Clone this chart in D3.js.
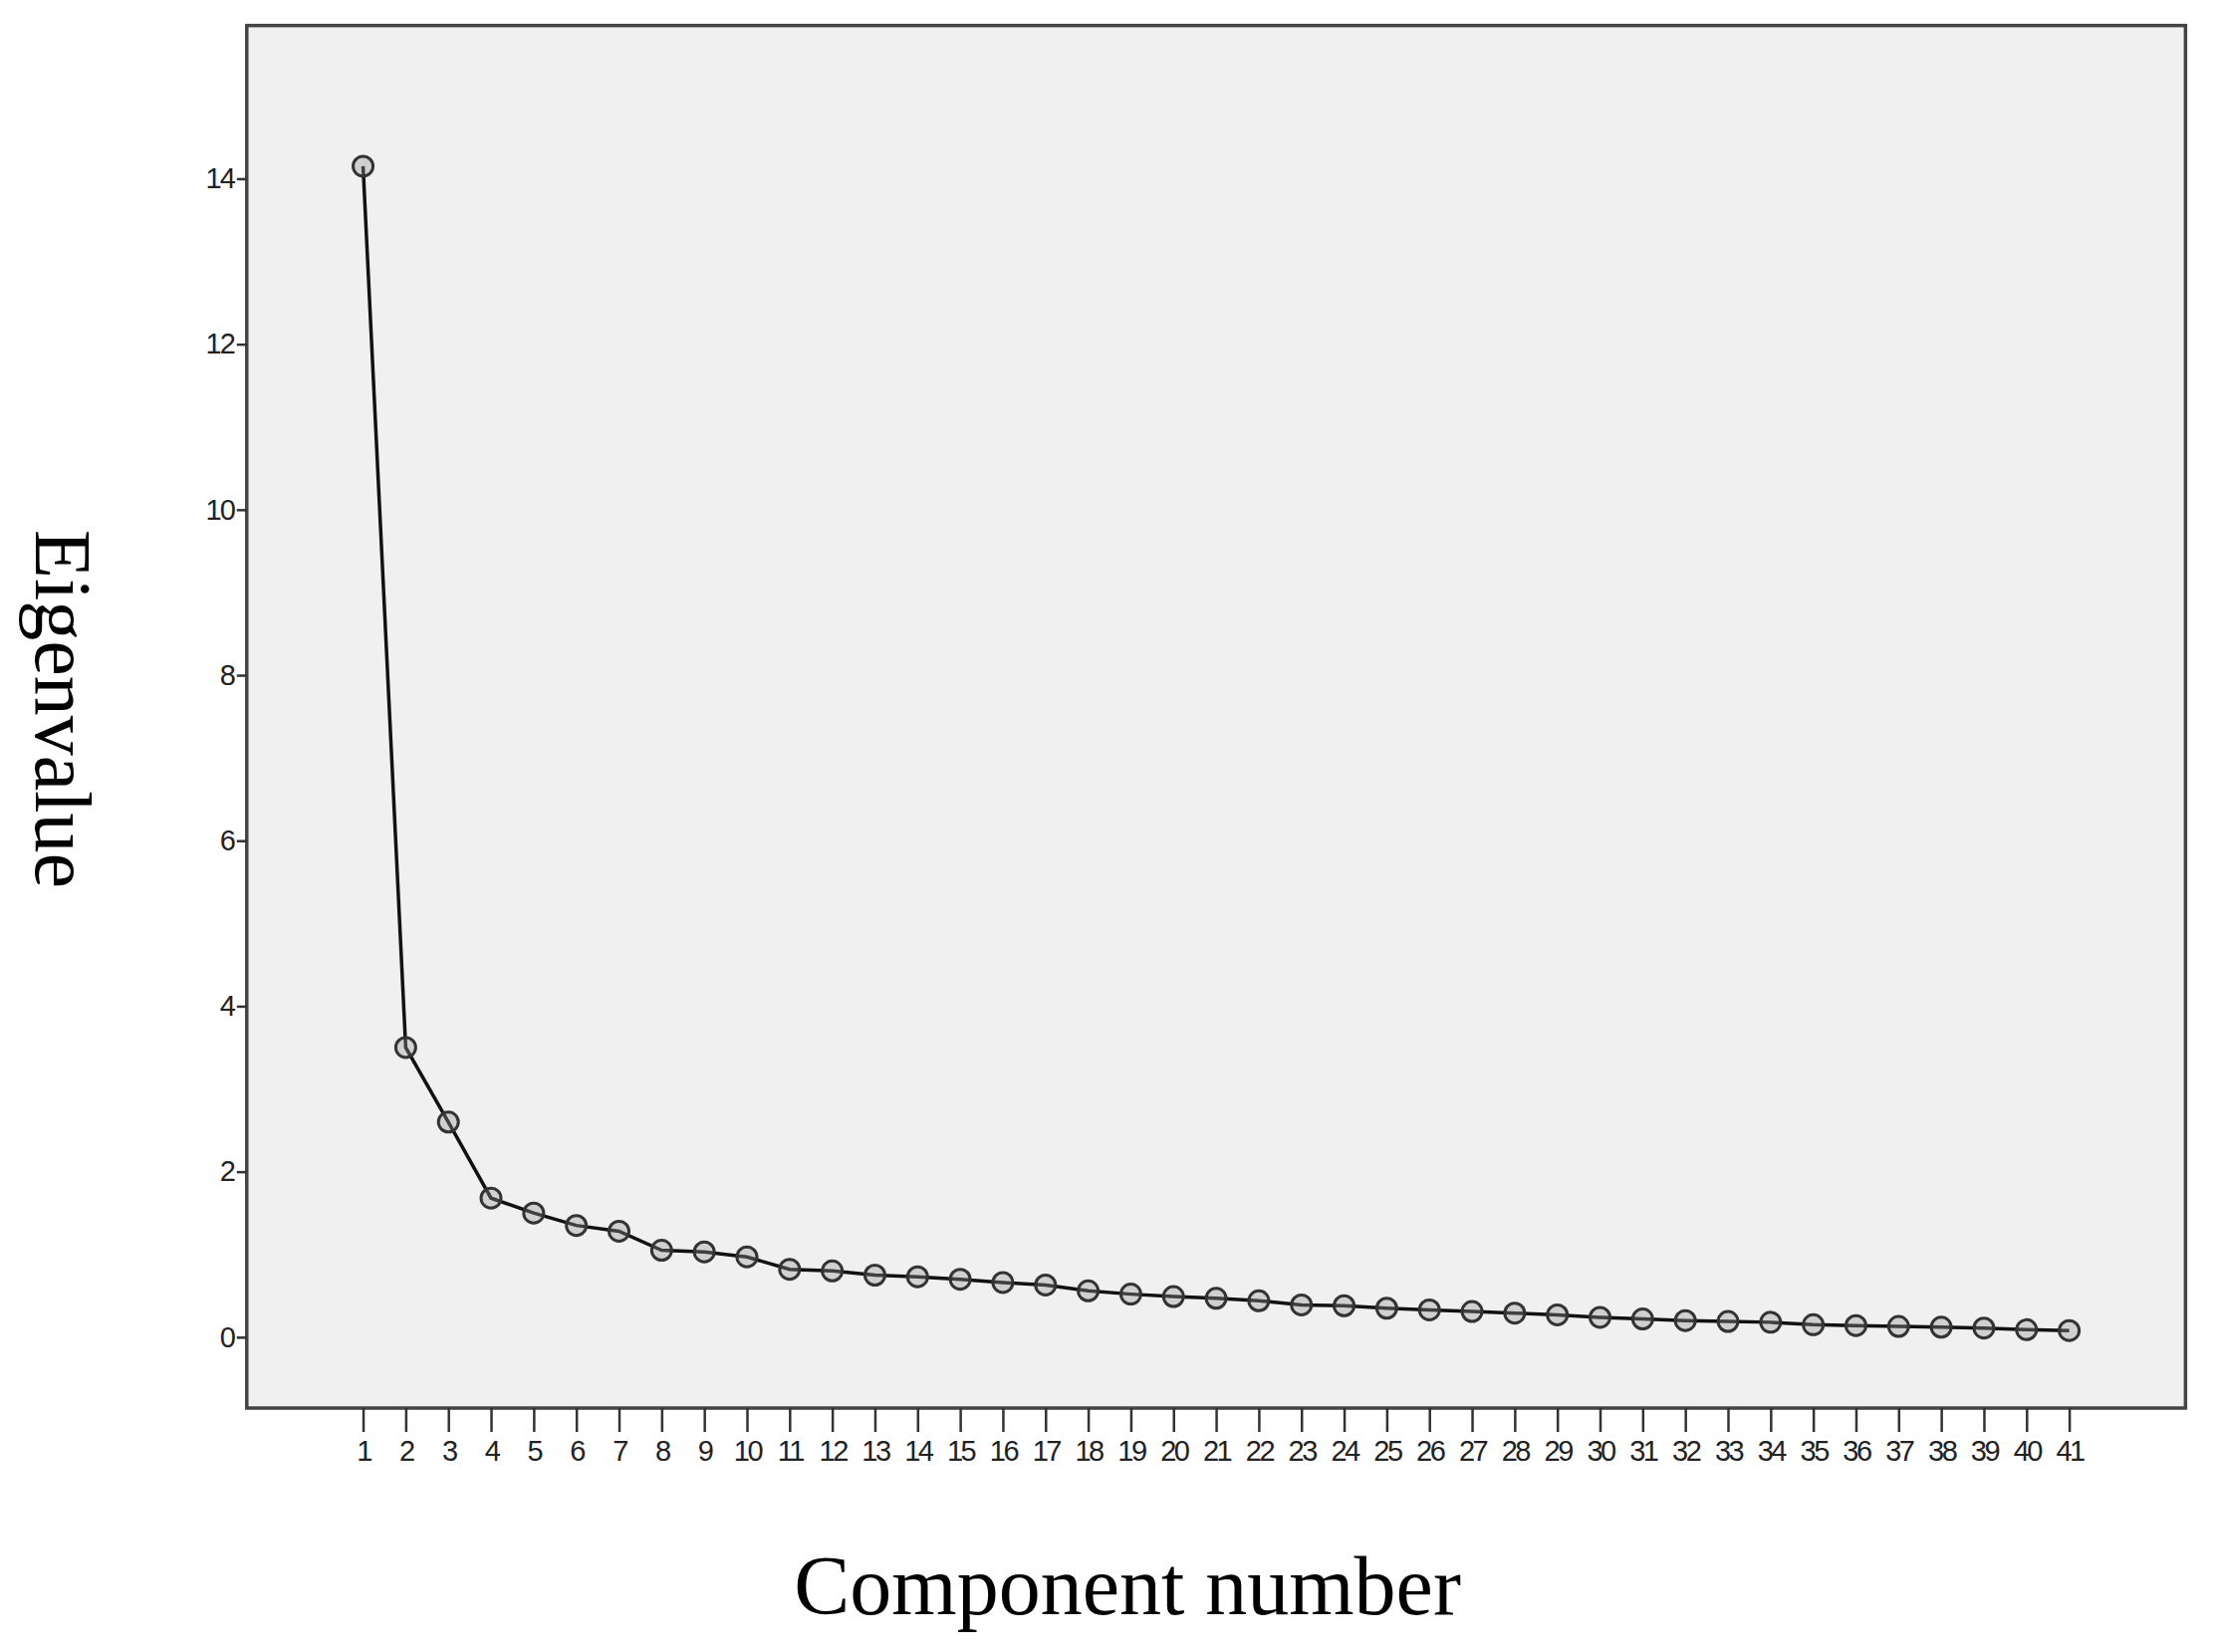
<!DOCTYPE html>
<html>
<head>
<meta charset="utf-8">
<script src="https://cdn.jsdelivr.net/npm/d3@7"></script>
<style>
  body { margin: 0; background: #fff; }
</style>
</head>
<body>
<svg id="chart" width="2222" height="1659"></svg>
<script>
// Scree plot: eigenvalue per component
const components = d3.range(1, 42)
const eigenvalues = [14.15, 3.5, 2.6, 1.68, 1.5, 1.35, 1.28, 1.05, 1.03, 0.97,
	0.82, 0.8, 0.75, 0.73, 0.7, 0.66, 0.63, 0.56, 0.52, 0.49,
	0.47, 0.44, 0.39, 0.38, 0.35, 0.33, 0.31, 0.29, 0.27, 0.24,
	0.22, 0.2, 0.19, 0.18, 0.15, 0.14, 0.13, 0.12, 0.11, 0.09, 0.08]
const yTicks = [0, 2, 4, 6, 8, 10, 12, 14]

const s = 1.424
const box = { l: 174 * s, r: 1541 * s, t: 18 * s, b: 993 * s }

const svg = d3.select('#chart')

let x = d3.scaleLinear().domain([1, 41]).range([256 * s, 1459 * s])
let y = d3.scaleLinear().domain([0, 14]).range([943 * s, 126 * s])

svg.append('rect')
	.attr('x', box.l).attr('y', box.t)
	.attr('width', box.r - box.l).attr('height', box.b - box.t)
	.attr('fill', '#f0f0f0').attr('stroke', '#444').attr('stroke-width', 3.5)

// y axis
let yAxis = svg.append('g')
	.attr('transform', `translate(${box.l},0)`)
	.call(d3.axisLeft(y).tickValues(yTicks).tickSize(10).tickPadding(3))
yAxis.select('.domain').remove()
yAxis.selectAll('line').attr('stroke', '#333').attr('stroke-width', 2.5)
yAxis.selectAll('text').attr('font-family', 'Liberation Sans, Arial, sans-serif')
	.attr('font-size', 29).attr('letter-spacing', -2).attr('fill', '#222')

// x axis
let xAxis = svg.append('g')
	.attr('transform', `translate(0,${box.b})`)
	.call(d3.axisBottom(x).tickValues(components).tickSize(24).tickPadding(8))
xAxis.select('.domain').remove()
xAxis.selectAll('line').attr('stroke', '#333').attr('stroke-width', 2.5)
xAxis.selectAll('text').attr('font-family', 'Liberation Sans, Arial, sans-serif')
	.attr('font-size', 29).attr('letter-spacing', -2.5).attr('fill', '#222')

// line
let line = d3.line().x((d, i) => x(components[i])).y(d => y(d))
svg.append('path')
	.datum(eigenvalues)
	.attr('d', line)
	.attr('fill', 'none')
	.attr('stroke', '#111')
	.attr('stroke-width', 3.5)

svg.selectAll('circle.pt')
	.data(eigenvalues)
	.enter().append('circle')
	.attr('class', 'pt')
	.attr('cx', (d, i) => x(components[i]))
	.attr('cy', d => y(d))
	.attr('r', 10)
	.attr('fill', 'rgba(150,150,150,0.35)')
	.attr('stroke', '#333')
	.attr('stroke-width', 3)

// axis titles
svg.append('text')
	.attr('transform', `translate(${38 * s},${500 * s}) rotate(90)`)
	.attr('text-anchor', 'middle')
	.attr('dominant-baseline', 'middle')
	.attr('font-family', 'Liberation Serif, Times New Roman, serif')
	.attr('font-size', 80)
	.text('Eigenvalue')

svg.append('text')
	.attr('x', 795 * s)
	.attr('y', 1138 * s)
	.attr('text-anchor', 'middle')
	.attr('font-family', 'Liberation Serif, Times New Roman, serif')
	.attr('font-size', 84)
	.text('Component number')
</script>
</body>
</html>
